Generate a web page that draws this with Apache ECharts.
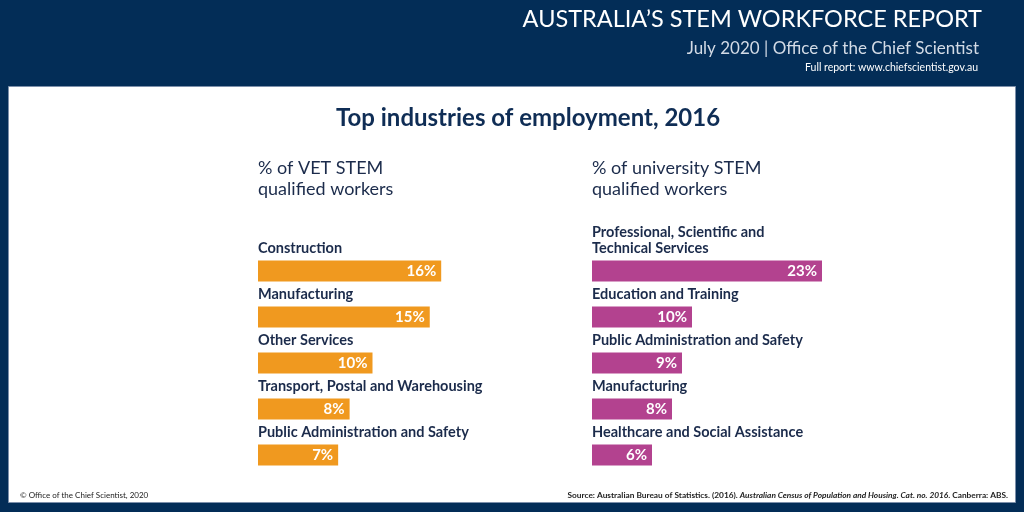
<!DOCTYPE html>
<html>
<head>
<meta charset="utf-8">
<script src="https://cdn.jsdelivr.net/npm/echarts@6/dist/echarts.min.js"></script>
<style>
  html, body { margin: 0; padding: 0; background: #032d57; }
  #chart { width: 1024px; height: 512px; }
</style>
</head>
<body>
<div id="chart"></div>
<script>
  // VET STEM qualified workers
  const vetIndustries = ['Construction', 'Manufacturing', 'Other Services', 'Transport, Postal and Warehousing', 'Public Administration and Safety']
  const vetShare = [16, 15, 10, 8, 7]

  // university STEM qualified workers
  const uniIndustries = ['Professional, Scientific and\nTechnical Services', 'Education and Training', 'Public Administration and Safety', 'Manufacturing', 'Healthcare and Social Assistance']
  const uniShare = [23, 10, 9, 8, 6]

  const navy = '#032d57'
  const ink = '#1b2b4b'
  const font = 'Lato'

  let chart = echarts.init(document.getElementById('chart'))

  function yAxisItem(gridIndex, data) {
    return {
      type: 'category',
      gridIndex,
      data,
      inverse: true,
      axisLine: { show: false },
      axisTick: { show: false },
      axisLabel: {
        inside: true,
        margin: 0,
        align: 'left',
        verticalAlign: 'bottom',
        padding: [0, 0, 15, 0],
        lineHeight: 16,
        color: ink,
        fontFamily: font,
        fontWeight: 'bold',
        fontSize: 14.5,
        hideOverlap: false,
        interval: 0
      },
      z: 10
    }
  }

  function xAxisItem(gridIndex, max) {
    return {
      type: 'value',
      gridIndex,
      min: 0,
      max,
      show: false
    }
  }

  function seriesItem(index, data, color) {
    return {
      type: 'bar',
      xAxisIndex: index,
      yAxisIndex: index,
      data,
      barWidth: 21,
      itemStyle: { color },
      label: {
        show: true,
        position: 'insideRight',
        distance: 5,
        formatter: '{c}%',
        color: '#fff',
        fontFamily: font,
        fontWeight: 'bold',
        fontSize: 15
      },
      silent: true
    }
  }

  chart.setOption({
    animation: false,
    backgroundColor: navy,
    title: {
      text: 'Top industries of employment, 2016',
      left: 331,
      top: 101,
      textStyle: { color: '#0f2d55', fontFamily: font, fontWeight: 'bold', fontSize: 24 }
    },
    graphic: [
      {
        type: 'rect',
        shape: { x: 8.5, y: 86.5, width: 1007, height: 416 },
        style: { fill: '#fff', stroke: '#7d90ab', lineWidth: 1 },
        z: -10
      },
      {
        type: 'text', right: 42, top: 7,
        style: { text: 'AUSTRALIA\u2019S STEM WORKFORCE REPORT', fill: '#fff', font: '23.5px Lato' }
      },
      {
        type: 'text', right: 45, top: 40,
        style: { text: 'July 2020 | Office of the Chief Scientist', fill: '#d3dbe6', font: '17px Lato' }
      },
      {
        type: 'text', right: 46, top: 62,
        style: { text: 'Full report: www.chiefscientist.gov.au', fill: '#fff', font: '10.5px Lato' }
      },
      {
        type: 'text', left: 258, top: 158,
        style: { text: '% of VET STEM\nqualified workers', fill: ink, font: '18px Lato', lineHeight: 21 }
      },
      {
        type: 'text', left: 592, top: 158,
        style: { text: '% of university STEM\nqualified workers', fill: ink, font: '18px Lato', lineHeight: 21 }
      },
      {
        type: 'text', left: 20, top: 491,
        style: { text: '\u00a9 Office of the Chief Scientist, 2020', fill: '#222', font: '8px Lato' }
      },
      {
        type: 'text', right: 16, top: 491,
        style: {
          text: '{b|Source: Australian Bureau of Statistics. (2016). }{i|Australian Census of Population and Housing. Cat. no. 2016}{b|. Canberra: ABS.}',
          rich: {
            b: { fill: '#222', font: 'bold 8.3px Lato' },
            i: { fill: '#222', font: 'italic bold 8.3px Lato' }
          }
        }
      }
    ],
    grid: [
      { left: 258, top: 248, width: 229, height: 230 },
      { left: 592, top: 248, width: 300, height: 230 }
    ],
    xAxis: [xAxisItem(0, 20), xAxisItem(1, 30)],
    yAxis: [yAxisItem(0, vetIndustries), yAxisItem(1, uniIndustries)],
    series: [
      seriesItem(0, vetShare, '#f0991f'),
      seriesItem(1, uniShare, '#b3428f')
    ]
  })
</script>
</body>
</html>
